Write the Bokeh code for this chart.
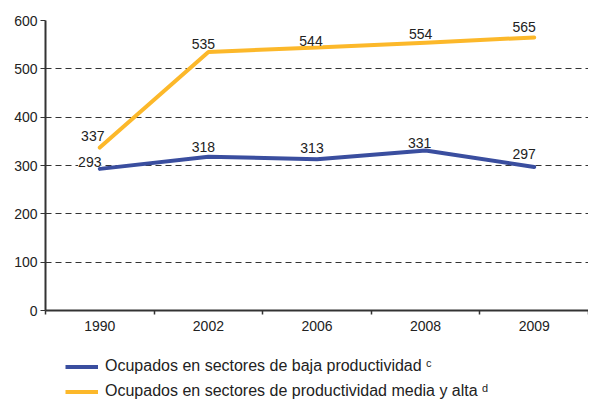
from bokeh.plotting import figure
from bokeh.models import (ColumnDataSource, Range1d, FixedTicker, Legend, LegendItem)
from bokeh.layouts import column
from bokeh.core.properties import value
from bokeh.embed import file_html
from bokeh.resources import INLINE

years = ["1990", "2002", "2006", "2008", "2009"]
baja = [293, 318, 313, 331, 297]
media_alta = [337, 535, 544, 554, 565]
y_ticks = [0, 100, 200, 300, 400, 500, 600]
label_baja = "Ocupados en sectores de baja productividad \u1d9c"
label_media = "Ocupados en sectores de productividad media y alta \u1d48"

BLUE = "#3A4E9F"
ORANGE = "#FCB82A"
FONT = "Liberation Sans"

# label offsets (style only)
baja_dx = [-10, -5, -5, -6, -10]
baja_dy = [-2, -5, -6, -3, -8]
media_dx = [-7, -5, -6, -5, -10]
media_dy = [-7, -3, -2, -4, -5]

xs = list(range(len(years)))

p = figure(width=588, height=338, output_backend="svg", toolbar_location=None,
           x_range=Range1d(-0.5, len(years) - 0.5), y_range=Range1d(0, 600),
           min_border_left=45, min_border_right=0, min_border_top=20, min_border_bottom=28)
p.outline_line_color = None
p.background_fill_color = "white"
p.border_fill_color = "white"

p.xgrid.visible = False
p.ygrid.ticker = FixedTicker(ticks=y_ticks)
p.ygrid.grid_line_color = "#333333"
p.ygrid.grid_line_dash = "6 4"
p.ygrid.grid_line_width = 1

yax = p.yaxis[0]
yax.ticker = FixedTicker(ticks=y_ticks)
yax.axis_line_color = "#333333"
yax.axis_line_width = 2
yax.major_tick_out = 5
yax.major_tick_in = 0
yax.major_tick_line_color = "#333333"
yax.minor_tick_line_color = None
yax.major_label_text_font = FONT
yax.major_label_text_font_size = "14px"
yax.major_label_text_color = "#222222"
yax.major_label_standoff = 3

xax = p.xaxis[0]
xax.ticker = FixedTicker(ticks=xs, minor_ticks=[i - 0.5 for i in range(len(years) + 1)])
xax.major_label_overrides = {i: y for i, y in zip(xs, years)}
xax.axis_line_color = "#333333"
xax.axis_line_width = 2
xax.major_tick_out = 0
xax.major_tick_in = 0
xax.minor_tick_out = 4
xax.minor_tick_in = 0
xax.minor_tick_line_color = "#333333"
xax.minor_tick_line_width = 1.5
xax.major_label_text_font = FONT
xax.major_label_text_font_size = "14px"
xax.major_label_text_color = "#222222"
xax.major_label_standoff = 6

src_b = ColumnDataSource(dict(x=xs, y=baja, t=[str(v) for v in baja], dx=baja_dx, dy=baja_dy))
src_m = ColumnDataSource(dict(x=xs, y=media_alta, t=[str(v) for v in media_alta], dx=media_dx, dy=media_dy))

p.line("x", "y", source=src_m, line_color=ORANGE, line_width=4, line_cap="round", line_join="round")
p.line("x", "y", source=src_b, line_color=BLUE, line_width=4, line_cap="round", line_join="round")

for src in (src_b, src_m):
    p.text("x", "y", text="t", source=src, x_offset="dx", y_offset="dy",
           text_align="center", text_baseline="bottom",
           text_font=value(FONT), text_font_size="14px", text_color="#222222",
           background_fill_color="white")

# legend figure
lg = figure(width=588, height=65, output_backend="svg", toolbar_location=None,
            x_range=Range1d(0, 1), y_range=Range1d(0, 1),
            x_axis_type=None, y_axis_type=None,
            min_border_left=0, min_border_right=0, min_border_top=0, min_border_bottom=0)
lg.outline_line_color = None
lg.xgrid.visible = False
lg.ygrid.visible = False
r_b = lg.line([-10, -9], [-10, -10], line_color=BLUE, line_width=4)
r_m = lg.line([-10, -9], [-10, -10], line_color=ORANGE, line_width=4)
legend = Legend(items=[LegendItem(label=label_baja, renderers=[r_b]),
                       LegendItem(label=label_media, renderers=[r_m])],
                location=(20, 3), orientation="vertical",
                border_line_color=None, background_fill_alpha=0,
                margin=0, padding=0, spacing=7,
                glyph_width=33, glyph_height=13, label_height=13,
                label_standoff=7,
                label_text_font=FONT, label_text_font_size="16px",
                label_text_color="#222222")
lg.add_layout(legend, "center")

layout = column(p, lg, spacing=0)

open("out.html", "w").write(file_html(layout, INLINE))
